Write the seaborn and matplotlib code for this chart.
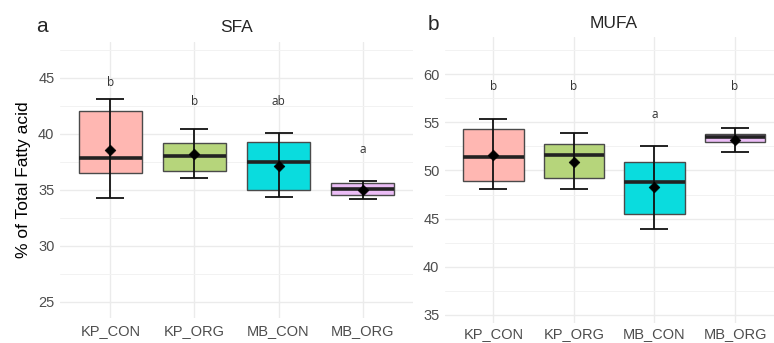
import numpy as np
import pandas as pd
import matplotlib
matplotlib.use("Agg")
import matplotlib.pyplot as plt
import seaborn as sns
from matplotlib.ticker import MultipleLocator

# groups
groups = ["KP_CON", "KP_ORG", "MB_CON", "MB_ORG"]
box_colors = ["#FFB7B2", "#B6D57B", "#0ADCDE", "#EBBDF6"]

# SFA panel
sfa_q1 = [36.5, 36.7, 35.0, 34.55]
sfa_med = [37.8, 38.0, 37.45, 35.1]
sfa_q3 = [42.0, 39.15, 39.25, 35.6]
sfa_mean = [38.55, 38.15, 37.15, 34.95]
sfa_lo = [34.25, 36.05, 34.35, 34.15]
sfa_hi = [43.05, 40.45, 40.05, 35.8]
sfa_letters = ["b", "b", "ab", "a"]
sfa_letter_y = [44.6, 42.85, 42.85, 38.6]

# MUFA panel
mufa_q1 = [48.9, 49.2, 45.5, 52.9]
mufa_med = [51.4, 51.6, 48.8, 53.45]
mufa_q3 = [54.25, 52.75, 50.85, 53.8]
mufa_mean = [51.6, 50.85, 48.25, 53.2]
mufa_lo = [48.05, 48.05, 43.95, 51.9]
mufa_hi = [55.35, 53.85, 52.55, 54.45]
mufa_letters = ["b", "b", "a", "b"]
mufa_letter_y = [58.75, 58.75, 55.75, 58.75]

sns.set_theme(style="whitegrid")
plt.rcParams["font.family"] = ["Liberation Sans", "DejaVu Sans"]

W, H = 774, 343
fig = plt.figure(figsize=(W / 100, H / 100), dpi=100)


def draw_panel(ax, q1, med, q3, mean, lo, hi, letters, letter_y, ylim, pad):
    pos = np.arange(len(groups))
    stats = []
    for i in range(len(groups)):
        stats.append({"med": med[i], "q1": q1[i], "q3": q3[i],
                      "whislo": q1[i], "whishi": q3[i], "fliers": []})
    bp = ax.bxp(stats, positions=pos, widths=0.75, patch_artist=True,
                showcaps=False, showfliers=False,
                boxprops=dict(edgecolor="#4a4a4a", linewidth=1.0),
                whiskerprops=dict(linewidth=0),
                medianprops=dict(color="#222222", linewidth=2.6),
                zorder=3)
    for patch, c in zip(bp["boxes"], box_colors):
        patch.set_facecolor(c)

    df = pd.DataFrame({"x": pos, "mean": mean, "lo": lo, "hi": hi})
    ax.errorbar(df["x"], df["mean"],
                yerr=[df["mean"] - df["lo"], df["hi"] - df["mean"]],
                fmt="none", ecolor="#111111", elinewidth=1.3,
                capsize=10, capthick=1.3, zorder=4)
    sns.scatterplot(data=df, x="x", y="mean", ax=ax, marker="D", s=30,
                    color="black", edgecolor="black", zorder=5, legend=False)

    for i, (t, y) in enumerate(zip(letters, letter_y)):
        ax.text(pos[i], y, t, ha="center", va="center", fontsize=8.5,
                color="#333333", family=["Open Sans", "DejaVu Sans"])

    ax.set_xlim(-0.6, 3.6)
    ax.set_ylim(*ylim)
    ax.yaxis.set_major_locator(MultipleLocator(5))
    ax.yaxis.set_minor_locator(MultipleLocator(2.5))
    ax.set_xticks(pos)
    ax.set_xticklabels(groups)
    ax.grid(True, which="major", color="#EBEBEB", linewidth=1.0)
    ax.grid(True, which="minor", axis="y", color="#F2F2F2", linewidth=0.7)
    ax.set_axisbelow(True)
    for s in ax.spines.values():
        s.set_visible(False)
    ax.tick_params(axis="both", length=0, labelsize=10.5, labelcolor="#4D4D4D")
    ax.tick_params(axis="x", pad=pad)
    ax.tick_params(axis="y", pad=4)
    ax.set_xlabel("")
    ax.set_ylabel("")


ax1 = fig.add_axes([60 / W, 25 / H, 353 / W, 276.3 / H])
draw_panel(ax1, sfa_q1, sfa_med, sfa_q3, sfa_mean, sfa_lo, sfa_hi,
           sfa_letters, sfa_letter_y, (23.54, 48.21), 4)
ax1.set_ylabel("% of Total Fatty acid", fontsize=12.5, color="black", labelpad=5)

ax2 = fig.add_axes([445 / W, 20 / H, 338.4 / W, 286.3 / H])
draw_panel(ax2, mufa_q1, mufa_med, mufa_q3, mufa_mean, mufa_lo, mufa_hi,
           mufa_letters, mufa_letter_y, (34.17, 63.87), 3)

fig.text(236.5 / W, 1 - 28 / H, "SFA", ha="center", va="center", fontsize=12.5)
fig.text(614 / W, 1 - 23 / H, "MUFA", ha="center", va="center", fontsize=12.5)
fig.text(42 / W, 1 - 27 / H, "a", ha="center", va="center", fontsize=15)
fig.text(433 / W, 1 - 25 / H, "b", ha="center", va="center", fontsize=15)

fig.savefig("out.png", dpi=100)
